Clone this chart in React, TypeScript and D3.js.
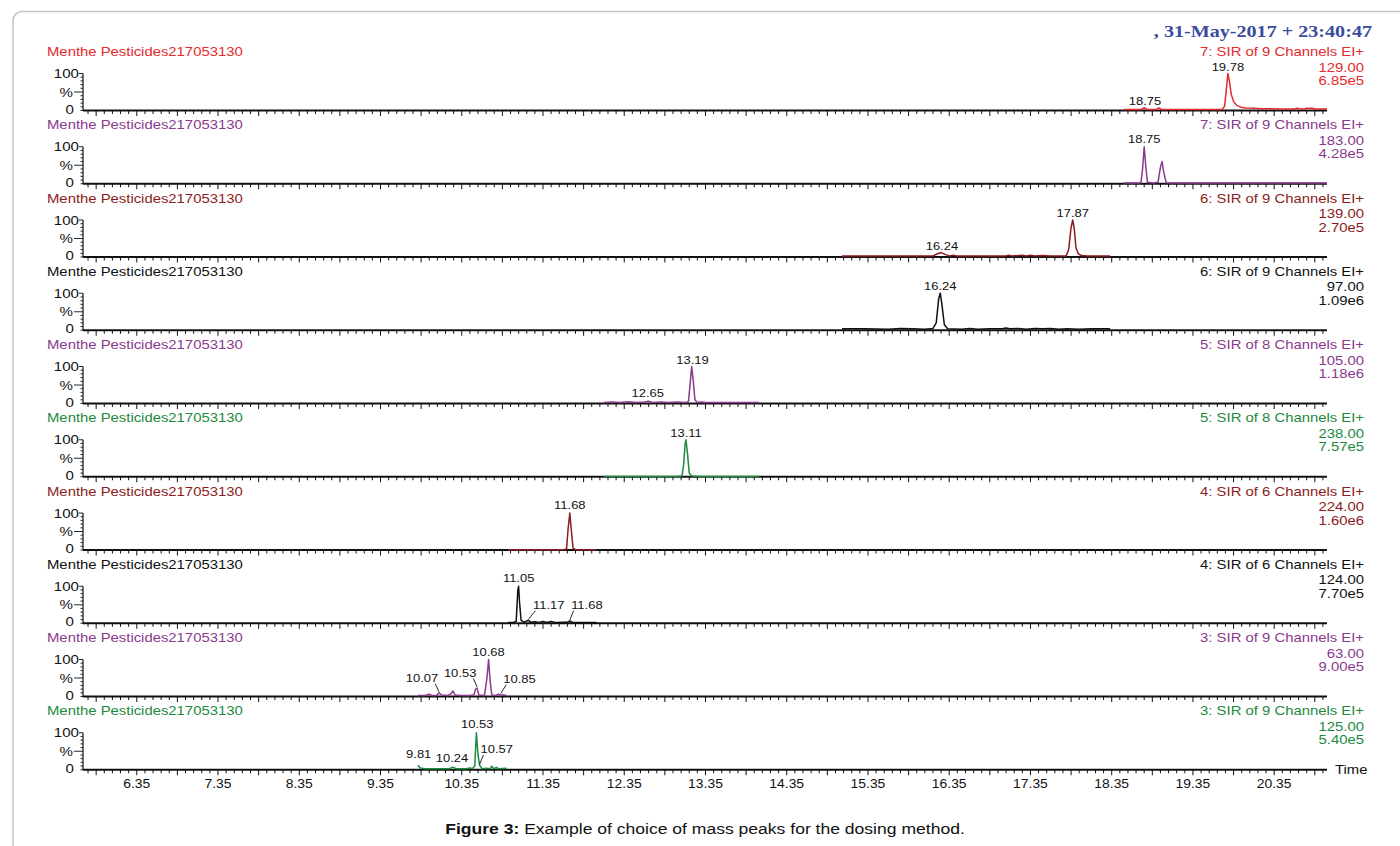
import React from 'react';
import * as d3 from 'd3';

// x axis: retention time (min)
const timeDomain = [5.688, 21.0];
const timeLabels = ['6.35', '7.35', '8.35', '9.35', '10.35', '11.35', '12.35', '13.35', '14.35', '15.35', '16.35', '17.35', '18.35', '19.35', '20.35'];

const sampleName = 'Menthe Pesticides217053130';
const functionLabels = [
  '7: SIR of 9 Channels EI+', '7: SIR of 9 Channels EI+',
  '6: SIR of 9 Channels EI+', '6: SIR of 9 Channels EI+',
  '5: SIR of 8 Channels EI+', '5: SIR of 8 Channels EI+',
  '4: SIR of 6 Channels EI+', '4: SIR of 6 Channels EI+',
  '3: SIR of 9 Channels EI+', '3: SIR of 9 Channels EI+',
];
const masses = ['129.00', '183.00', '139.00', '97.00', '105.00', '238.00', '224.00', '124.00', '63.00', '125.00'];
const intensities = ['6.85e5', '4.28e5', '2.70e5', '1.09e6', '1.18e6', '7.57e5', '1.60e6', '7.70e5', '9.00e5', '5.40e5'];
const panelColors = ['#e42a2e', '#8a3a8c', '#8c1c20', '#111111', '#8a3a8c', '#1e8a3e', '#8c1c20', '#111111', '#8a3a8c', '#1e8a3e'];

// [time, % of max]
const trace129 = [[18.5, 3], [18.65, 3], [18.72, 3], [18.75, 8], [18.78, 3], [18.9, 3], [18.93, 7], [18.96, 3], [19.2, 3], [19.5, 3], [19.71, 3], [19.74, 12], [19.76, 55], [19.78, 100], [19.8, 78], [19.82, 45], [19.85, 24], [19.89, 14], [19.94, 9], [20.0, 7], [20.1, 6], [20.2, 5], [20.3, 5], [20.45, 4], [20.6, 4], [20.63, 6], [20.67, 4], [20.72, 4], [20.75, 6], [20.82, 6], [20.86, 4], [21.0, 4]];
const trace183 = [[18.5, 2], [18.65, 2], [18.71, 3], [18.73, 40], [18.75, 100], [18.77, 45], [18.79, 4], [18.86, 2], [18.92, 4], [18.95, 45], [18.97, 60], [18.99, 32], [19.02, 3], [19.1, 2], [19.5, 2], [20.0, 2], [20.5, 2], [21.0, 2]];
const trace139 = [[15.03, 3], [15.5, 3], [16.0, 3], [16.15, 3], [16.2, 8], [16.25, 12], [16.3, 7], [16.35, 3], [16.4, 5], [16.44, 3], [16.7, 3], [17.05, 3], [17.08, 5], [17.12, 3], [17.2, 4], [17.25, 5], [17.3, 3], [17.35, 5], [17.4, 3], [17.5, 4], [17.6, 3], [17.79, 3], [17.82, 20], [17.85, 80], [17.87, 100], [17.89, 75], [17.91, 25], [17.94, 8], [17.98, 4], [18.05, 3], [18.33, 3]];
const trace97 = [[15.03, 4], [15.3, 4], [15.6, 3], [15.75, 5], [15.9, 4], [16.05, 3], [16.15, 5], [16.19, 20], [16.22, 85], [16.24, 100], [16.26, 70], [16.29, 15], [16.33, 4], [16.5, 3], [16.6, 5], [16.7, 3], [16.85, 4], [17.0, 4], [17.05, 6], [17.1, 4], [17.2, 5], [17.3, 3], [17.4, 5], [17.5, 4], [17.6, 5], [17.7, 3], [17.8, 4], [17.95, 3], [18.1, 4], [18.33, 4]];
const trace105 = [[12.1, 3], [12.2, 4], [12.3, 3], [12.4, 5], [12.5, 3], [12.6, 4], [12.65, 6], [12.7, 3], [12.8, 4], [12.9, 3], [13.0, 4], [13.1, 3], [13.14, 5], [13.16, 50], [13.18, 100], [13.2, 60], [13.22, 10], [13.25, 3], [13.3, 4], [13.35, 3], [13.5, 3], [14.01, 3]];
const trace238 = [[12.1, 1], [12.5, 1], [13.0, 1], [13.06, 2], [13.08, 30], [13.1, 90], [13.11, 100], [13.13, 60], [13.15, 10], [13.18, 2], [13.3, 1], [13.6, 1], [14.01, 1]];
const trace224 = [[10.92, 1], [11.2, 1], [11.6, 1], [11.64, 3], [11.66, 60], [11.68, 100], [11.7, 50], [11.72, 5], [11.75, 1], [12.01, 1]];
const trace124 = [[10.92, 2], [10.98, 2], [11.02, 5], [11.04, 90], [11.05, 100], [11.06, 60], [11.08, 8], [11.12, 3], [11.17, 8], [11.2, 3], [11.25, 4], [11.3, 2], [11.35, 5], [11.4, 2], [11.45, 5], [11.5, 2], [11.6, 3], [11.65, 3], [11.68, 6], [11.71, 3], [11.8, 2], [12.01, 2]];
const trace63 = [[9.81, 3], [9.9, 3], [9.95, 6], [9.98, 3], [10.04, 3], [10.07, 10], [10.1, 4], [10.18, 3], [10.22, 8], [10.24, 15], [10.27, 4], [10.35, 3], [10.45, 3], [10.5, 5], [10.52, 20], [10.54, 22], [10.56, 4], [10.63, 3], [10.66, 50], [10.68, 100], [10.7, 40], [10.72, 4], [10.77, 3], [10.8, 6], [10.83, 3], [10.85, 5], [10.9, 3]];
const trace125 = [[9.81, 12], [9.84, 5], [9.9, 3], [10.0, 3], [10.1, 3], [10.2, 3], [10.24, 7], [10.28, 3], [10.4, 3], [10.45, 5], [10.48, 3], [10.51, 10], [10.53, 100], [10.55, 40], [10.57, 12], [10.6, 3], [10.65, 4], [10.7, 3], [10.72, 10], [10.74, 3], [10.78, 6], [10.8, 3], [10.9, 4]];
const traces = [trace129, trace183, trace139, trace97, trace105, trace238, trace224, trace124, trace63, trace125];

// [text, peak time, peak %, label time, label %]
const peakLabels: [string, number, number, number, number][][] = [
  [['18.75', 18.75, 8, 18.76, 15], ['19.78', 19.78, 100, 19.78, 107]],
  [['18.75', 18.75, 100, 18.75, 110]],
  [['16.24', 16.25, 12, 16.26, 19], ['17.87', 17.87, 100, 17.87, 109]],
  [['16.24', 16.24, 100, 16.24, 109]],
  [['12.65', 12.65, 6, 12.64, 18], ['13.19', 13.18, 100, 13.19, 107]],
  [['13.11', 13.11, 100, 13.11, 108]],
  [['11.68', 11.68, 100, 11.68, 111]],
  [['11.05', 11.05, 100, 11.05, 112], ['11.17', 11.17, 8, 11.42, 38], ['11.68', 11.68, 6, 11.89, 38]],
  [['10.07', 10.07, 10, 9.86, 39], ['10.53', 10.54, 22, 10.33, 53], ['10.68', 10.68, 100, 10.68, 109], ['10.85', 10.83, 5, 11.06, 36]],
  [['9.81', 9.81, 12, 9.82, 31], ['10.24', 10.24, 7, 10.23, 22], ['10.53', 10.53, 100, 10.54, 112], ['10.57', 10.57, 12, 10.78, 44]],
];

const W = 1400;
const H = 846;
const axisLeft = 83;
const axisRight = 1327;
const firstAxisY = 110.5;
const pitch = 73.25;
const plotH = 37;
const font = 'Liberation Sans, Arial, sans-serif';

function Txt({ x, y, size, sx = 1.18, anchor = 'start', fill = '#111', weight = 'normal', family = font, children }: any) {
  return (
    <text
      transform={`translate(${x},${y}) scale(${sx},1)`}
      fontSize={size}
      fontFamily={family}
      fontWeight={weight}
      textAnchor={anchor}
      fill={fill}
    >
      {children}
    </text>
  );
}

export default function App() {
  const x = d3.scaleLinear().domain(timeDomain).range([axisLeft, axisRight]);
  // tick every 0.1 min starting at 5.75; longer ticks on x.35 and x.85
  const ticks = d3.range(0, 153).map(i => ({ t: 5.75 + i * 0.1, major: i % 5 === 1 }));
  const yTicks = d3.range(0, 101, 10);

  return (
    <svg width={W} height={H} style={{ position: 'absolute', left: 0, top: 0, background: '#fff' }}>
      <rect x={13} y={11.5} width={1420} height={860} rx={9} fill="none" stroke="#c4c4c4" strokeWidth={1.5} />

      <Txt x={1372} y={37} size={16.5} sx={1.22} anchor="end" fill="#3a4c9e" weight="bold" family="Liberation Serif, Times New Roman, serif">
        ,  31-May-2017 + 23:40:47
      </Txt>

      {traces.map((trace, i) => {
        const y0 = firstAxisY + i * pitch;
        const y = d3.scaleLinear().domain([0, 100]).range([y0, y0 - plotH]);
        const line = d3.line<number[]>().x(d => x(d[0])).y(d => y(d[1]));
        const color = panelColors[i];
        return (
          <g key={i}>
            <Txt x={47} y={y0 - 54.5} size={12.6} fill={color}>{sampleName}</Txt>
            <Txt x={1364} y={y0 - 54.5} size={12.6} anchor="end" fill={color}>{functionLabels[i]}</Txt>
            <Txt x={1364} y={y0 - 39} size={12.6} anchor="end" fill={color}>{masses[i]}</Txt>
            <Txt x={1364} y={y0 - 25.5} size={12.6} anchor="end" fill={color}>{intensities[i]}</Txt>

            {/* y axis */}
            <line x1={axisLeft} x2={axisLeft} y1={y(100)} y2={y(0)} stroke="#111" strokeWidth={1.2} />
            {yTicks.map(v => (
              <line key={v} x1={axisLeft - (v === 50 ? 9 : v === 100 ? 4 : 2.5)} x2={axisLeft} y1={y(v)} y2={y(v)} stroke="#111" strokeWidth={0.9} />
            ))}
            <Txt x={79} y={y(100) + 4.5} size={12.8} anchor="end">100</Txt>
            <Txt x={73} y={y(50) + 4.5} size={12.8} anchor="end">%</Txt>
            <Txt x={74} y={y(0) + 3} size={12.8} anchor="end">0</Txt>

            {/* x axis */}
            <line x1={axisLeft} x2={axisRight} y1={y0} y2={y0} stroke="#111" strokeWidth={2} />
            {ticks.map((tk, k) => (
              <line key={k} x1={x(tk.t)} x2={x(tk.t)} y1={y0} y2={y0 + (tk.major ? 5.5 : 3.5)} stroke="#111" strokeWidth={1} />
            ))}

            <path d={line(trace) || ''} fill="none" stroke={color} strokeWidth={1.5} strokeLinejoin="round" />

            {peakLabels[i].map(([txt, pt, pp, lt, lp], k) => {
              const lx = x(lt);
              const px = x(pt);
              const w = txt.length * 6.5;
              const lead = Math.abs(lx - px) > 8;
              const sxp = px < lx ? lx - w / 2 + 3 : lx + w / 2 - 3;
              return (
                <g key={k}>
                  <Txt x={lx} y={y(lp)} size={11.8} sx={1.1} anchor="middle">{txt}</Txt>
                  {lead && <line x1={sxp} y1={y(lp) + 1.5} x2={px} y2={y(pp) - 1} stroke="#111" strokeWidth={0.9} />}
                </g>
              );
            })}
          </g>
        );
      })}

      {timeLabels.map(l => (
        <Txt key={l} x={x(+l)} y={788} size={12.4} sx={1.12} anchor="middle">{l}</Txt>
      ))}
      <Txt x={1335} y={774} size={12.6}>Time</Txt>

      <text transform="translate(705,834) scale(1.17,1)" fontSize={15} fontFamily={font} textAnchor="middle" fill="#111">
        <tspan fontWeight="bold">Figure 3:</tspan> Example of choice of mass peaks for the dosing method.
      </text>
    </svg>
  );
}
